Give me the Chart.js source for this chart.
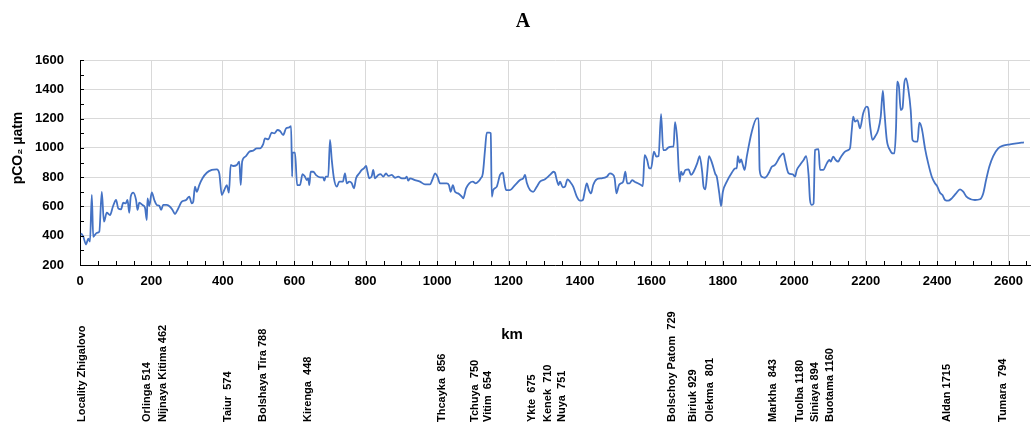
<!DOCTYPE html>
<html>
<head>
<meta charset="utf-8">
<script src="https://cdn.jsdelivr.net/npm/chart.js@4.4.1/dist/chart.umd.min.js"></script>
<style>
  html, body { margin: 0; padding: 0; background: #fff; }
  #wrap { position: relative; width: 1036px; height: 424px; }
</style>
</head>
<body>
<div id="wrap"><canvas id="grafico" width="1036" height="424"></canvas></div>
<script>
// distancia a lo largo del río (km) y pCO2 (µatm)
const distanciaKm = [
  3, 9, 17, 23, 28, 33, 37, 47, 54, 61, 67, 75, 84, 92, 101, 107, 115, 121, 128, 133,
  138, 142, 149, 157, 161, 166, 175, 182, 187, 189, 194, 201, 208, 215, 222, 227, 233, 243, 252, 259,
  266, 273, 285, 297, 306, 313, 317, 322, 327, 334, 343, 355, 369, 383, 390, 397, 404, 411, 417, 422,
  429, 439, 446, 450, 454, 463, 474, 485, 495, 504, 513, 518, 527, 537, 544, 553, 560, 569, 577, 586,
  591, 594, 595, 602, 608, 616, 623, 630, 635, 639, 642, 646, 653, 661, 672, 681, 684, 688, 695, 700,
  705, 711, 719, 726, 736, 742, 747, 754, 761, 767, 773, 782, 789, 795, 801, 805, 810, 817, 821, 826,
  835, 842, 849, 857, 863, 873, 882, 891, 901, 910, 915, 919, 924, 938, 952, 966, 980, 988, 994, 1001,
  1008, 1027, 1033, 1038, 1044, 1050, 1059, 1069, 1073, 1081, 1090, 1100, 1108, 1115, 1122, 1128, 1134, 1139, 1146, 1150,
  1153, 1157, 1167, 1176, 1184, 1188, 1193, 1204, 1218, 1232, 1241, 1246, 1251, 1260, 1269, 1279, 1288, 1302, 1316, 1326,
  1330, 1335, 1340, 1344, 1352, 1358, 1365, 1372, 1381, 1391, 1400, 1408, 1414, 1419, 1425, 1431, 1437, 1447, 1461, 1475,
  1484, 1490, 1497, 1502, 1509, 1515, 1521, 1527, 1532, 1539, 1546, 1553, 1562, 1571, 1576, 1581, 1588, 1594, 1599, 1607,
  1614, 1620, 1627, 1633, 1639, 1648, 1658, 1662, 1666, 1672, 1679, 1683, 1688, 1695, 1704, 1711, 1718, 1728, 1735, 1742,
  1746, 1751, 1756, 1761, 1770, 1779, 1783, 1790, 1795, 1800, 1811, 1825, 1835, 1839, 1842, 1847, 1851, 1856, 1861, 1867,
  1881, 1895, 1900, 1903, 1909, 1918, 1928, 1937, 1946, 1960, 1970, 1974, 1984, 1996, 2002, 2007, 2016, 2027, 2033, 2040,
  2044, 2049, 2054, 2058, 2068, 2072, 2081, 2091, 2098, 2102, 2109, 2116, 2123, 2128, 2142, 2151, 2156, 2161, 2165, 2170,
  2177, 2184, 2193, 2203, 2207, 2212, 2219, 2226, 2235, 2242, 2248, 2252, 2259, 2268, 2276, 2280, 2285, 2288, 2293, 2298,
  2303, 2308, 2313, 2319, 2326, 2331, 2338, 2345, 2350, 2357, 2366, 2375, 2385, 2394, 2400, 2408, 2415, 2422, 2431, 2441,
  2453, 2464, 2473, 2482, 2494, 2506, 2520, 2529, 2537, 2546, 2557, 2571, 2585, 2604, 2622, 2643
];

const pco2 = [
  416, 395, 340, 380, 360, 678, 393, 420, 427, 700, 496, 557, 541, 598, 644, 587, 580, 625, 621, 644,
  557, 667, 694, 644, 576, 625, 610, 591, 507, 655, 603, 696, 644, 610, 605, 576, 610, 610, 598, 576,
  548, 576, 632, 644, 667, 621, 632, 735, 700, 746, 792, 830, 849, 853, 826, 678, 712, 746, 694, 883,
  876, 883, 906, 746, 906, 940, 974, 981, 997, 997, 1026, 1065, 1058, 1104, 1099, 1122, 1115, 1088, 1133, 1140,
  1149, 803, 967, 967, 746, 746, 821, 803, 780, 792, 746, 837, 837, 814, 799, 799, 776, 803, 803, 1054,
  917, 792, 735, 769, 769, 826, 758, 769, 758, 723, 792, 826, 849, 860, 876, 837, 792, 808, 849, 792,
  815, 821, 803, 826, 808, 815, 796, 803, 792, 792, 803, 776, 792, 780, 769, 751, 751, 792, 826, 803,
  758, 758, 746, 700, 746, 700, 689, 667, 655, 723, 758, 769, 758, 769, 792, 826, 985, 1104, 1104, 1099,
  667, 712, 735, 815, 830, 769, 712, 712, 746, 780, 792, 815, 762, 712, 700, 735, 769, 785, 815, 837,
  830, 780, 746, 769, 730, 735, 785, 769, 735, 667, 639, 644, 712, 758, 712, 689, 746, 785, 792, 803,
  826, 821, 792, 689, 746, 758, 769, 837, 758, 758, 780, 769, 758, 746, 739, 951, 917, 860, 860, 974,
  940, 944, 1231, 985, 985, 1003, 1008, 1008, 1176, 1065, 769, 837, 815, 849, 853, 815, 837, 894, 944, 837,
  735, 717, 826, 944, 894, 821, 803, 689, 603, 700, 769, 830, 860, 860, 944, 899, 921, 883, 849, 940,
  1110, 1201, 1201, 849, 803, 796, 826, 871, 883, 940, 962, 917, 826, 819, 803, 849, 883, 921, 944, 815,
  644, 610, 620, 985, 992, 849, 849, 894, 917, 906, 940, 917, 906, 928, 974, 985, 997, 1122, 1213, 1179,
  1190, 1133, 1236, 1281, 1270, 1156, 1054, 1076, 1122, 1213, 1390, 1258, 1054, 985, 962, 962, 1145, 1452, 1418, 1258,
  1270, 1441, 1475, 1406, 1258, 1054, 1042, 1042, 1172, 1133, 997, 894, 803, 758, 739, 694, 678, 644, 639, 655,
  689, 717, 701, 667, 649, 644, 649, 689, 780, 871, 944, 997, 1015, 1024, 1031, 1038
];

// afluentes / localidades bajo el eje (posición en km)
const estacionesKm = [6, 188, 232, 414, 512, 638, 1013, 1106, 1142, 1265, 1310, 1349, 1657, 1716, 1764, 1940, 2016, 2058, 2100, 2427, 2584];
const estaciones = [
  'Locality Zhigalovo', 'Orlinga 514', 'Nijnaya Kitima 462', 'Taiur  574', 'Bolshaya Tira 788', 'Kirenga  448',
  'Thcayka  856', 'Tchuya  750', 'Vitim  654', 'Ykte  675', 'Kenek  710', 'Nuya  751',
  'Bolschoy Patom  729', 'Biriuk 929', 'Olekma  801', 'Markha  843', 'Tuolba 1180', 'Siniaya 894', 'Buotama 1160',
  'Aldan 1715', 'Tumara  794'
];

const FUENTE = '"Liberation Sans", Arial, sans-serif';

const extras = {
  id: 'extras',
  afterDraw(chart) {
    const { ctx, chartArea: a, scales: { x, y } } = chart;
    ctx.save();

    // marcas menores hacia adentro
    ctx.strokeStyle = '#000';
    ctx.lineWidth = 1;
    ctx.beginPath();
    x.ticks.forEach(t => {
      const px = Math.round(x.getPixelForValue(t.value)) + 0.5;
      ctx.moveTo(px, a.bottom);
      ctx.lineTo(px, a.bottom - 4);
    });
    y.ticks.forEach(t => {
      const py = Math.round(y.getPixelForValue(t.value)) + 0.5;
      ctx.moveTo(a.left, py);
      ctx.lineTo(a.left + 4, py);
    });
    ctx.stroke();

    ctx.fillStyle = '#000';

    // título
    ctx.font = 'bold 20px "Liberation Serif", "Times New Roman", serif';
    ctx.textAlign = 'center';
    ctx.textBaseline = 'middle';
    ctx.fillText('A', chart.width / 2 + 5, 22);

    // km
    ctx.font = 'bold 15px ' + FUENTE;
    ctx.fillText('km', chart.width / 2 - 6, 335);

    // título eje y
    ctx.save();
    ctx.translate(18, a.top + 88);
    ctx.rotate(-Math.PI / 2);
    ctx.font = 'bold 14px ' + FUENTE;
    ctx.fillText('pCO₂ µatm', 0, 0);
    ctx.restore();

    // estaciones
    ctx.font = 'bold 11px ' + FUENTE;
    ctx.textAlign = 'left';
    estaciones.forEach((nombre, i) => {
      const px = x.getPixelForValue(estacionesKm[i]);
      ctx.save();
      ctx.translate(px, 422);
      ctx.rotate(-Math.PI / 2);
      ctx.fillText(nombre, 0, 0);
      ctx.restore();
    });

    ctx.restore();
  }
};

new Chart(document.getElementById('grafico'), {
  type: 'line',
  data: {
    datasets: [{
      data: distanciaKm.map((km, i) => ({ x: km, y: pco2[i] })),
      borderColor: '#4472C4',
      borderWidth: 1.8,
      pointRadius: 0,
      fill: false,
      cubicInterpolationMode: 'monotone'
    }]
  },
  options: {
    responsive: false,
    animation: false,
    layout: { padding: { top: 60, right: 6, bottom: 0, left: 0 } },
    plugins: { legend: { display: false }, tooltip: { enabled: false } },
    scales: {
      x: {
        type: 'linear',
        min: 0,
        max: 2660,
        afterFit: s => { s.height = 159; },
        ticks: {
          stepSize: 50,
          autoSkip: false,
          includeBounds: false,
          maxRotation: 0,
          padding: 9,
          color: '#000',
          font: { family: FUENTE, size: 13, weight: 'bold' },
          callback: v => (v % 200 === 0 ? v : '')
        },
        grid: {
          drawTicks: false,
          color: c => (c.tick && c.tick.value % 200 === 0 ? '#d9d9d9' : 'rgba(0,0,0,0)')
        },
        border: { color: '#000', width: 1 }
      },
      y: {
        min: 200,
        max: 1600,
        afterFit: s => { s.width = 80; },
        ticks: {
          stepSize: 100,
          autoSkip: false,
          padding: 16,
          color: '#000',
          font: { family: FUENTE, size: 13, weight: 'bold' },
          callback: v => (v % 200 === 0 ? v : '')
        },
        grid: {
          drawTicks: false,
          color: c => (c.tick && c.tick.value % 200 === 0 ? '#d9d9d9' : 'rgba(0,0,0,0)')
        },
        border: { color: '#000', width: 1 }
      }
    }
  },
  plugins: [extras]
});
</script>
</body>
</html>
